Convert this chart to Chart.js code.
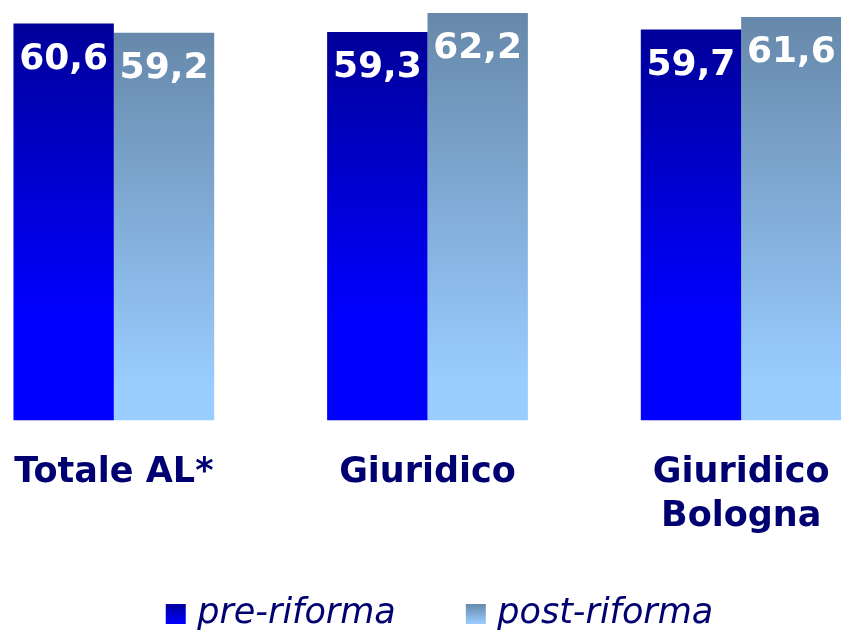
<!DOCTYPE html>
<html>
<head>
<meta charset="utf-8">
<script src="https://cdn.jsdelivr.net/npm/chart.js"></script>
<style>
  html, body { margin: 0; padding: 0; background: #fff; overflow: hidden; width: 841px; height: 633px; }
  /* the original picture is cropped at both sides, so the canvas is wider than the window */
  #wrap { position: absolute; left: -43px; top: 0; width: 968px; height: 641px; }
</style>
</head>
<body>
<div id="wrap"><canvas id="chart"></canvas></div>
<script>
const categories = ['Totale AL*', 'Giuridico', ['Giuridico', 'Bologna']];
const seriesNames = ['pre-riforma', 'post-riforma'];
const preValues = [60.6, 59.3, 59.7];
const postValues = [59.2, 62.2, 61.6];

const navy = '#000070';
// [top colour, bottom colour, where the bottom colour is reached]
const preColors = ['#000099', '#0000ff', 0.73];
const postColors = ['#6688aa', '#99ccff', 0.9];

// gradient from the top of each bar down to the axis
function barGradient(context, colors) {
  const chart = context.chart;
  const area = chart.chartArea;
  if (!area || context.type !== 'data') return colors[1];
  const yTop = chart.scales.y.getPixelForValue(context.raw);
  const g = chart.ctx.createLinearGradient(0, yTop, 0, area.bottom);
  g.addColorStop(0, colors[0]);
  g.addColorStop(colors[2], colors[1]);
  g.addColorStop(1, colors[1]);
  return g;
}

// gradient square for the legend, drawn at the right of a wider
// transparent image so it sits close to its text
function legendIcon(colors) {
  const c = document.createElement('canvas');
  c.width = 42;
  c.height = 20;
  const cx = c.getContext('2d');
  const g = cx.createLinearGradient(0, 0, 0, 20);
  g.addColorStop(0, colors[0]);
  g.addColorStop(1, colors[1]);
  cx.fillStyle = g;
  cx.fillRect(21, 0, 20, 20);
  return c;
}
const legendIcons = [legendIcon(preColors), legendIcon(postColors)];

// white values written inside the top of the bars
const valueLabels = {
  id: 'valueLabels',
  afterDatasetsDraw(chart) {
    const ctx = chart.ctx;
    ctx.save();
    ctx.font = 'bold 36px "DejaVu Sans"';
    ctx.fillStyle = '#ffffff';
    ctx.textAlign = 'center';
    ctx.textBaseline = 'middle';
    chart.data.datasets.forEach((ds, i) => {
      chart.getDatasetMeta(i).data.forEach((bar, j) => {
        ctx.fillText(ds.data[j].toFixed(1).replace('.', ','), bar.x, bar.y + 36);
      });
    });
    ctx.restore();
  }
};

// legend sits a little right of the middle of the plot in the original
const legendShift = {
  id: 'legendShift',
  afterLayout(chart) {
    chart.legend.left += 5;
    chart.legend.right += 5;
  }
};

new Chart(document.getElementById('chart'), {
  type: 'bar',
  data: {
    labels: categories,
    datasets: [
      {
        label: seriesNames[0],
        data: preValues,
        backgroundColor: ctx => barGradient(ctx, preColors),
        categoryPercentage: 0.64,
        barPercentage: 1.0
      },
      {
        label: seriesNames[1],
        data: postValues,
        backgroundColor: ctx => barGradient(ctx, postColors),
        categoryPercentage: 0.64,
        barPercentage: 1.0
      }
    ]
  },
  options: {
    responsive: true,
    maintainAspectRatio: false,
    animation: false,
    layout: { padding: { top: 0, left: 0, right: 27, bottom: 0 } },
    scales: {
      x: {
        grid: { display: false },
        border: { display: false },
        afterFit(scale) { scale.height = 119.5; },
        ticks: {
          color: navy,
          padding: 23,
          font: { family: '"DejaVu Sans"', size: 35, weight: 'bold', lineHeight: 1.25 }
        }
      },
      y: {
        display: false,
        min: 0,
        max: 64.2
      }
    },
    plugins: {
      tooltip: { enabled: false },
      legend: {
        position: 'bottom',
        labels: {
          color: navy,
          usePointStyle: true,
          pointStyleWidth: 28,
          padding: 56,
          font: { family: '"DejaVu Sans"', size: 35, style: 'italic' },
          generateLabels(chart) {
            const items = Chart.defaults.plugins.legend.labels.generateLabels(chart);
            items.forEach((item, i) => { item.pointStyle = legendIcons[i]; });
            return items;
          }
        }
      }
    }
  },
  plugins: [valueLabels, legendShift]
});
</script>
</body>
</html>
